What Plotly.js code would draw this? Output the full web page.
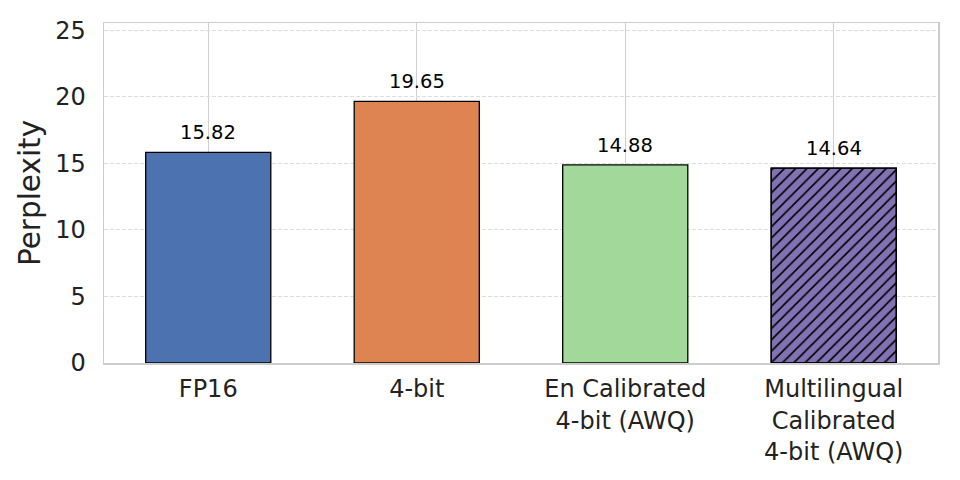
<!DOCTYPE html>
<html>
<head>
<meta charset="utf-8">
<script src="https://cdn.plot.ly/plotly-3.0.1.min.js"></script>
<style>html,body{margin:0;padding:0;background:#fff;}#chart{width:960px;height:480px;}</style>
</head>
<body>
<div id="chart"></div>
<script>
const categories = ["FP16", "4-bit", "En Calibrated<br>4-bit (AWQ)", "Multilingual<br>Calibrated<br>4-bit (AWQ)"];
const perplexity = [15.82, 19.65, 14.88, 14.64];
const valueLabels = ["15.82", "19.65", "14.88", "14.64"];
const barColors = ["#4c72b0", "#dd8452", "#a3d89b", "#8172b3"];
const hatches = ["", "", "", "/"];
const yTicks = [0, 5, 10, 15, 20, 25];

const font = "DejaVu Sans";

const barTrace = {
  type: "bar",
  x: categories,
  y: perplexity,
  width: 0.6,
  marker: {color: barColors, line: {color: "#000000", width: 1.3}},
  hoverinfo: "skip"
};

// hatch overlay: only bars that carry a hatch
const hatchIdx = hatches.map((h, i) => h ? i : -1).filter(i => i >= 0);
const hatchTrace = {
  type: "bar",
  x: hatchIdx.map(i => categories[i]),
  y: hatchIdx.map(i => perplexity[i]),
  width: 0.6,
  marker: {
    color: "#000000",
    line: {color: "#000000", width: 1.3},
    pattern: {shape: hatchIdx.map(i => hatches[i]), fillmode: "replace", size: 8, solidity: 0.2}
  },
  hoverinfo: "skip"
};

const annotations = categories.map((c, i) => ({
  x: c, y: perplexity[i], xref: "x", yref: "y",
  text: valueLabels[i], showarrow: false,
  yanchor: "bottom", yshift: 6,
  font: {family: font, size: 19.5, color: "#000"}
}));

const layout = {
  width: 960, height: 480,
  margin: {l: 104, r: 22, t: 23, b: 117},
  paper_bgcolor: "#ffffff", plot_bgcolor: "#ffffff",
  showlegend: false,
  barmode: "overlay",
  xaxis: {
    type: "category",
    range: [-0.5, 3.5],
    showgrid: true, gridcolor: "#d0d0d0", gridwidth: 1,
    showline: true, linecolor: "#cccccc", linewidth: 1.5, mirror: true,
    ticks: "", ticklabelstandoff: 4,
    tickfont: {family: font, size: 24, color: "#222"},
    zeroline: false
  },
  yaxis: {
    range: [0, 25.545],
    tickvals: yTicks,
    ticktext: yTicks.map(String),
    showgrid: true, gridcolor: "#dddddd", gridwidth: 1, griddash: "4px,2px",
    showline: true, linecolor: "#cccccc", linewidth: 1.5, mirror: true,
    ticks: "", ticklabelstandoff: 12,
    tickfont: {family: font, size: 24, color: "#222"},
    zeroline: false,
    title: {text: "Perplexity", font: {family: font, size: 29.5, color: "#222"}, standoff: 6}
  },
  annotations: annotations
};

Plotly.newPlot("chart", [barTrace, hatchTrace], layout, {displayModeBar: false, staticPlot: true});
</script>
</body>
</html>
